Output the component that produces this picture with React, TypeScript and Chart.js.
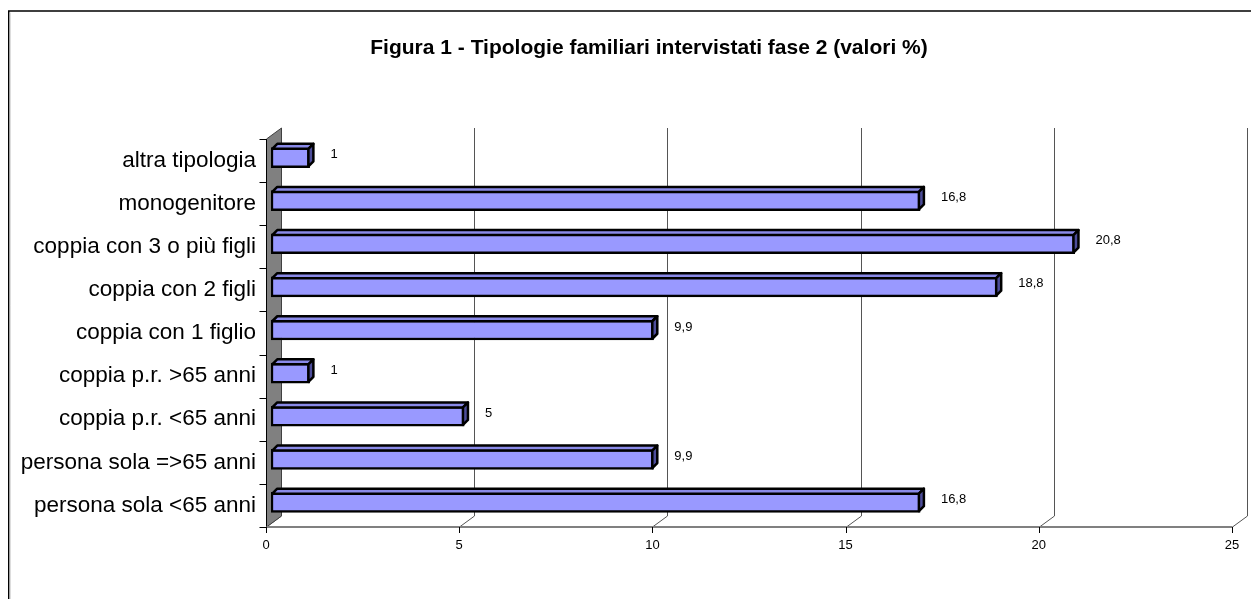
import React, { useEffect, useRef } from "react";
import { Chart, registerables } from "chart.js";

Chart.register(...registerables);

const categories = [
  "altra tipologia",
  "monogenitore",
  "coppia con 3 o più figli",
  "coppia con 2 figli",
  "coppia con 1 figlio",
  "coppia p.r. >65 anni",
  "coppia p.r. <65 anni",
  "persona sola =>65 anni",
  "persona sola <65 anni",
];
const values = [1, 16.8, 20.8, 18.8, 9.9, 1, 5, 9.9, 16.8];
const valueLabels = ["1", "16,8", "20,8", "18,8", "9,9", "1", "5", "9,9", "16,8"];
const xTicks = [0, 5, 10, 15, 20, 25];
const chartTitle = "Figura 1 - Tipologie familiari intervistati fase 2 (valori %)";

const FONT = "'Liberation Sans', Arial, Helvetica, sans-serif";
const WALL = { dx: 15, dy: -11 };
const BAR_OFF = { dx: 5, dy: -3 };
const BAR_DEPTH = { dx: 5, dy: -5 };

const excel3d = {
  id: "excel3d",
  beforeDraw(chart: any) {
    const { ctx, width } = chart;
    ctx.save();
    ctx.strokeStyle = "#000";
    ctx.lineWidth = 1.5;
    ctx.beginPath();
    ctx.moveTo(0.75, chart.height);
    ctx.lineTo(0.75, 3);
    ctx.lineTo(width, 3);
    ctx.stroke();
    ctx.strokeStyle = "#bbb";
    ctx.lineWidth = 1;
    ctx.beginPath();
    ctx.moveTo(2, chart.height);
    ctx.lineTo(2, 4.5);
    ctx.stroke();
    ctx.fillStyle = "#000";
    ctx.font = `bold 21px ${FONT}`;
    ctx.textAlign = "center";
    ctx.textBaseline = "middle";
    ctx.fillText(chartTitle, 641, 40);
    ctx.restore();
  },
  beforeDatasetsDraw(chart: any) {
    const { ctx, chartArea: a, scales } = chart;
    const xs = scales.x;
    const top = a.top;
    const bottom = a.bottom;
    ctx.save();
    ctx.strokeStyle = "#555";
    ctx.lineWidth = 1;
    xTicks.forEach((v) => {
      const px = Math.round(xs.getPixelForValue(v)) + 0.5;
      ctx.beginPath();
      ctx.moveTo(px + WALL.dx, top + WALL.dy);
      ctx.lineTo(px + WALL.dx, bottom + WALL.dy);
      ctx.lineTo(px, bottom);
      ctx.stroke();
    });
    const x0 = Math.round(xs.getPixelForValue(0)) + 0.5;
    ctx.fillStyle = "#808080";
    ctx.strokeStyle = "#404040";
    ctx.beginPath();
    ctx.moveTo(x0, top);
    ctx.lineTo(x0 + WALL.dx, top + WALL.dy);
    ctx.lineTo(x0 + WALL.dx, bottom + WALL.dy);
    ctx.lineTo(x0, bottom);
    ctx.closePath();
    ctx.fill();
    ctx.stroke();
    ctx.strokeStyle = "#000";
    ctx.beginPath();
    ctx.moveTo(x0, top);
    ctx.lineTo(x0, bottom);
    ctx.stroke();
    ctx.strokeStyle = "#808080";
    ctx.lineWidth = 2;
    ctx.beginPath();
    ctx.moveTo(x0, bottom);
    ctx.lineTo(Math.round(xs.getPixelForValue(25)) + 0.5, bottom);
    ctx.stroke();
    ctx.strokeStyle = "#000";
    ctx.lineWidth = 1;
    xTicks.forEach((v) => {
      const px = Math.round(xs.getPixelForValue(v)) + 0.5;
      ctx.beginPath();
      ctx.moveTo(px, bottom);
      ctx.lineTo(px, bottom + 6);
      ctx.stroke();
    });
    const band = (bottom - top) / categories.length;
    for (let k = 0; k <= categories.length; k++) {
      const py = Math.round(top + k * band) + 0.5;
      ctx.beginPath();
      ctx.moveTo(x0 - 7, py);
      ctx.lineTo(x0, py);
      ctx.stroke();
    }
    ctx.restore();
    ctx.save();
    ctx.translate(BAR_OFF.dx, BAR_OFF.dy);
  },
  afterDatasetsDraw(chart: any) {
    const { ctx } = chart;
    ctx.restore();
    const meta = chart.getDatasetMeta(0);
    ctx.save();
    ctx.lineWidth = 2.5;
    ctx.lineJoin = "round";
    ctx.strokeStyle = "#000";
    meta.data.forEach((el: any, i: number) => {
      const p = el.getProps(["x", "y", "base", "height"], true);
      const L = p.base + BAR_OFF.dx + 1.25;
      const R = p.x + BAR_OFF.dx - 1.25;
      const T = p.y - p.height / 2 + BAR_OFF.dy + 1.25;
      const B = p.y + p.height / 2 + BAR_OFF.dy - 1.25;
      const dx = BAR_DEPTH.dx;
      const dy = BAR_DEPTH.dy;
      ctx.fillStyle = "#8a8ae8";
      ctx.beginPath();
      ctx.moveTo(L, T);
      ctx.lineTo(L + dx, T + dy);
      ctx.lineTo(R + dx, T + dy);
      ctx.lineTo(R, T);
      ctx.closePath();
      ctx.fill();
      ctx.stroke();
      ctx.fillStyle = "#4d4d9a";
      ctx.beginPath();
      ctx.moveTo(R, T);
      ctx.lineTo(R + dx, T + dy);
      ctx.lineTo(R + dx, B + dy);
      ctx.lineTo(R, B);
      ctx.closePath();
      ctx.fill();
      ctx.stroke();
      ctx.fillStyle = "#000";
      ctx.font = `13px ${FONT}`;
      ctx.textAlign = "left";
      ctx.textBaseline = "middle";
      ctx.fillText(valueLabels[i], R + dx + 17, p.y + BAR_OFF.dy - 3);
    });
    ctx.restore();
  },
};

export default function App() {
  const ref = useRef<HTMLCanvasElement | null>(null);
  useEffect(() => {
    if (!ref.current) return;
    const chart = new Chart(ref.current, {
      type: "bar",
      data: {
        labels: categories,
        datasets: [
          {
            data: values,
            backgroundColor: "#9999ff",
            borderColor: "#000",
            borderWidth: 2.5,
            borderSkipped: false,
            barThickness: 20,
          },
        ],
      },
      options: {
        indexAxis: "y",
        animation: false,
        responsive: true,
        maintainAspectRatio: false,
        layout: { padding: { top: 131, right: 27, bottom: 0, left: 0 } },
        plugins: {
          legend: { display: false },
          tooltip: { enabled: false },
          title: { display: false },
        },
        scales: {
          x: {
            type: "linear",
            min: 0,
            max: 25,
            ticks: {
              stepSize: 5,
              padding: 11,
              color: "#000",
              font: { family: FONT, size: 13 },
            },
            grid: { display: false, drawTicks: false },
            border: { display: false },
            afterFit: (s: any) => {
              s.height = 72;
            },
          },
          y: {
            type: "category",
            ticks: {
              padding: 10,
              color: "#000",
              autoSkip: false,
              font: { family: FONT, size: 22.5 },
            },
            grid: { display: false, drawTicks: false },
            border: { display: false },
            afterFit: (s: any) => {
              s.width = 258;
            },
          },
        },
      },
      plugins: [excel3d],
    });
    return () => chart.destroy();
  }, []);
  return (
    <div style={{ position: "relative", width: "1251px", height: "591px" }}>
      <canvas ref={ref} style={{ display: "block" }} />
    </div>
  );
}
